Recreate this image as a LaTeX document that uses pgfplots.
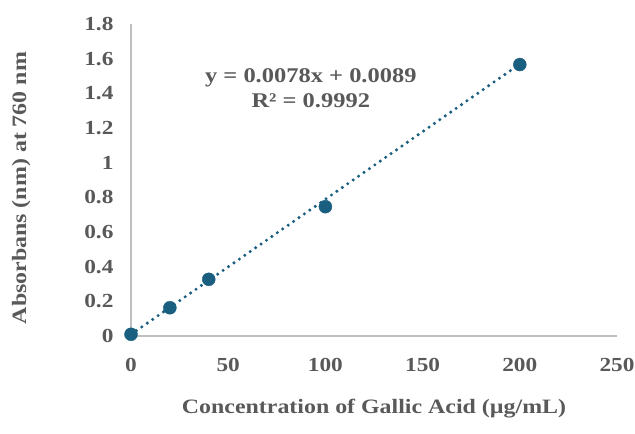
\documentclass[border=0pt]{standalone}
\usepackage{pgfplots}
\pgfplotsset{compat=1.18}
\usepackage{fontspec}
\setmainfont{Liberation Serif}[FakeStretch=1.17]
\definecolor{txtgray}{RGB}{89,89,89}
\definecolor{axgray}{RGB}{191,191,191}
\definecolor{ptblue}{RGB}{26,94,128}
\begin{document}
\begin{tikzpicture}
\begin{axis}[
  at={(0,0)}, anchor=south west,
  scale only axis, width=486bp, height=312bp,
  xmin=0, xmax=250, ymin=0, ymax=1.8,
  xtick={0,50,...,250}, ytick={0,0.2,...,1.8},
  yticklabels={0,0.2,0.4,0.6,0.8,1,1.2,1.4,1.6,1.8},
  axis lines*=left,
  axis line style={axgray, line width=1.5bp, -},
  major tick length=0pt,
  /pgf/number format/assume math mode=true,
  tick label style={font=\fontsize{20}{23}\selectfont\bfseries, text=txtgray},
  xticklabel style={anchor=center, yshift=-29bp},
  yticklabel style={anchor=east, xshift=-14bp},
  xlabel={Concentration of Gallic Acid (µg/mL)},
  ylabel={Absorbans (nm) at 760 nm},
  label style={font=\fontsize{20.5}{24}\selectfont\bfseries, text=txtgray},
  xlabel style={at={(axis description cs:0.5,-0.232)}, anchor=center},
  ylabel style={at={(axis description cs:-0.226,0.474)}, anchor=center, rotate=0},
  clip=false,
]
\addplot[ptblue, line width=3.4bp, line cap=round, dash pattern=on 0pt off 6.6bp]
  coordinates {(0,0.0089) (200,1.5689)};
\addplot[only marks, mark=*, mark size=6.5bp, ptblue, mark options={fill=ptblue, draw=ptblue}]
  coordinates {(0,0.01) (20,0.163) (40,0.327) (100,0.746) (200,1.566)};
\node[align=center, font=\fontsize{21}{25}\selectfont\bfseries, text=txtgray]
  at (axis cs:92.5,1.43) {y = 0.0078x + 0.0089\\R² = 0.9992};
\end{axis}
\pgfresetboundingbox
\useasboundingbox (-131bp,-98bp) rectangle (504bp,336bp);
\end{tikzpicture}
\end{document}
